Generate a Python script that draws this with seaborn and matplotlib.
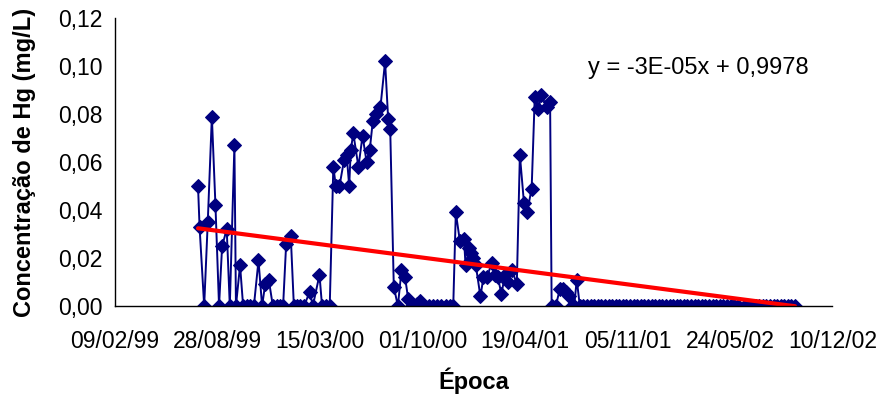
import matplotlib
matplotlib.use('Agg')
import matplotlib.pyplot as plt
import matplotlib.dates as mdates
import matplotlib.ticker as mticker
import numpy as np
import pandas as pd
import seaborn as sns

# Data: days since 09/02/1999 and Hg concentration (mg/L)
inicio = '1999-02-09'
dias = [162, 165, 174, 181, 189, 196, 203, 209, 218, 224,
        233, 236, 244, 250, 258, 263, 271, 280, 287, 293,
        300, 308, 316, 322, 328, 334, 343, 349, 355, 361,
        369, 380, 386, 399, 404, 412, 419, 426, 431, 438,
        447, 452, 457, 460, 465, 475, 483, 491, 497, 503,
        509, 518, 527, 533, 537, 544, 552, 559, 566, 572,
        579, 589, 595, 602, 613, 621, 629, 637, 646, 654,
        660, 665, 673, 681, 684, 691, 694, 699, 704, 713,
        719, 726, 735, 741, 747, 754, 761, 767, 775, 784,
        790, 798, 804, 813, 819, 826, 832, 842, 849, 852,
        860, 868, 874, 880, 886, 891, 896, 901, 907, 914,
        921, 928, 935, 942, 949, 956, 963, 970, 977, 984,
        991, 998, 1005, 1012, 1019, 1026, 1033, 1040, 1047, 1054,
        1061, 1068, 1075, 1082, 1089, 1096, 1103, 1110, 1117, 1124,
        1131, 1138, 1145, 1152, 1159, 1166, 1173, 1180, 1187, 1194,
        1201, 1208, 1215, 1229, 1236, 1243, 1250, 1257, 1264, 1271,
        1278, 1285, 1292, 1299, 1306, 1313, 1320, 1327]
hg = [0.050, 0.033, 0.000, 0.035, 0.079, 0.042, 0.000, 0.025, 0.032, 0.000,
      0.067, 0.000, 0.017, 0.000, 0.000, 0.000, 0.000, 0.019, 0.000, 0.009,
      0.011, 0.000, 0.000, 0.000, 0.000, 0.026, 0.029, 0.000, 0.000, 0.000,
      0.000, 0.006, 0.000, 0.013, 0.000, 0.000, 0.000, 0.058, 0.050, 0.050,
      0.061, 0.063, 0.050, 0.065, 0.072, 0.058, 0.071, 0.060, 0.065, 0.077,
      0.080, 0.083, 0.102, 0.078, 0.074, 0.008, 0.000, 0.015, 0.012, 0.003,
      0.000, 0.001, 0.002, 0.000, 0.000, 0.000, 0.000, 0.000, 0.000, 0.000,
      0.000, 0.039, 0.027, 0.028, 0.017, 0.024, 0.022, 0.020, 0.017, 0.004,
      0.012, 0.012, 0.018, 0.013, 0.012, 0.005, 0.013, 0.010, 0.015, 0.009,
      0.063, 0.043, 0.039, 0.049, 0.087, 0.082, 0.088, 0.083, 0.085, 0.000,
      0.000, 0.007, 0.007, 0.006, 0.004, 0.000, 0.000, 0.011, 0.000, 0.000,
      0.000, 0.000, 0.000, 0.000, 0.000, 0.000, 0.000, 0.000, 0.000, 0.000,
      0.000, 0.000, 0.000, 0.000, 0.000, 0.000, 0.000, 0.000, 0.000, 0.000,
      0.000, 0.000, 0.000, 0.000, 0.000, 0.000, 0.000, 0.000, 0.000, 0.000,
      0.000, 0.000, 0.000, 0.000, 0.000, 0.000, 0.000, 0.000, 0.000, 0.000,
      0.000, 0.000, 0.000, 0.000, 0.000, 0.000, 0.000, 0.000, 0.000, 0.000,
      0.000, 0.000, 0.000, 0.000, 0.000, 0.000, 0.000, 0.000]
x_ticks = ['09/02/99', '28/08/99', '15/03/00', '01/10/00',
           '19/04/01', '05/11/01', '24/05/02', '10/12/02']
y_ticks = [0.00, 0.02, 0.04, 0.06, 0.08, 0.10, 0.12]
equacao = 'y = -3E-05x + 0,9978'

df = pd.DataFrame({'dia': dias, 'hg': hg})
df['data'] = pd.Timestamp(inicio) + pd.to_timedelta(df['dia'], unit='D')
df['num'] = mdates.date2num(df['data'])

sns.set_style('white')
plt.rcParams['font.family'] = ['Liberation Sans', 'DejaVu Sans']
plt.rcParams['text.color'] = 'black'
plt.rcParams['axes.labelcolor'] = 'black'
plt.rcParams['xtick.color'] = 'black'
plt.rcParams['ytick.color'] = 'black'

fig = plt.figure(figsize=(8.86, 4.04), dpi=100)
ax = fig.add_axes([0.1298, 0.2426, 0.8098, 0.7121])

sns.lineplot(data=df, x='num', y='hg', estimator=None, sort=False,
             color='#000080', lw=1.4, marker='D', markersize=7,
             markeredgecolor='#000080', ax=ax)
sns.regplot(data=df, x='num', y='hg', scatter=False, ci=None, truncate=True,
            color='red', line_kws={'lw': 3}, ax=ax)

tick_dates = pd.to_datetime(x_ticks, format='%d/%m/%y')
ax.set_xlim(mdates.date2num(tick_dates[0]), mdates.date2num(tick_dates[-1]))
ax.set_xticks(mdates.date2num(tick_dates))
ax.set_xticklabels(x_ticks)
ax.set_ylim(0, 0.12)
ax.set_yticks(y_ticks)
ax.yaxis.set_major_formatter(mticker.FuncFormatter(lambda v, p: f'{v:.2f}'.replace('.', ',')))

ax.tick_params(axis='both', labelsize=16.5, length=5, width=1, direction='out',
               color='black', labelcolor='black', pad=4)
ax.tick_params(axis='x', pad=12)
for s in ['top', 'right']:
    ax.spines[s].set_visible(False)
for s in ['left', 'bottom']:
    ax.spines[s].set_color('black')
    ax.spines[s].set_linewidth(1)

ax.set_xlabel('Época', fontsize=17, fontweight='bold', labelpad=11, color='black')
ax.set_ylabel('Concentração de Hg (mg/L)', fontsize=17, fontweight='bold', labelpad=16, color='black')
ax.text(0.659, 0.827, equacao, transform=ax.transAxes, fontsize=17,
        ha='left', va='center', color='black')

fig.savefig('out.png', dpi=100)
